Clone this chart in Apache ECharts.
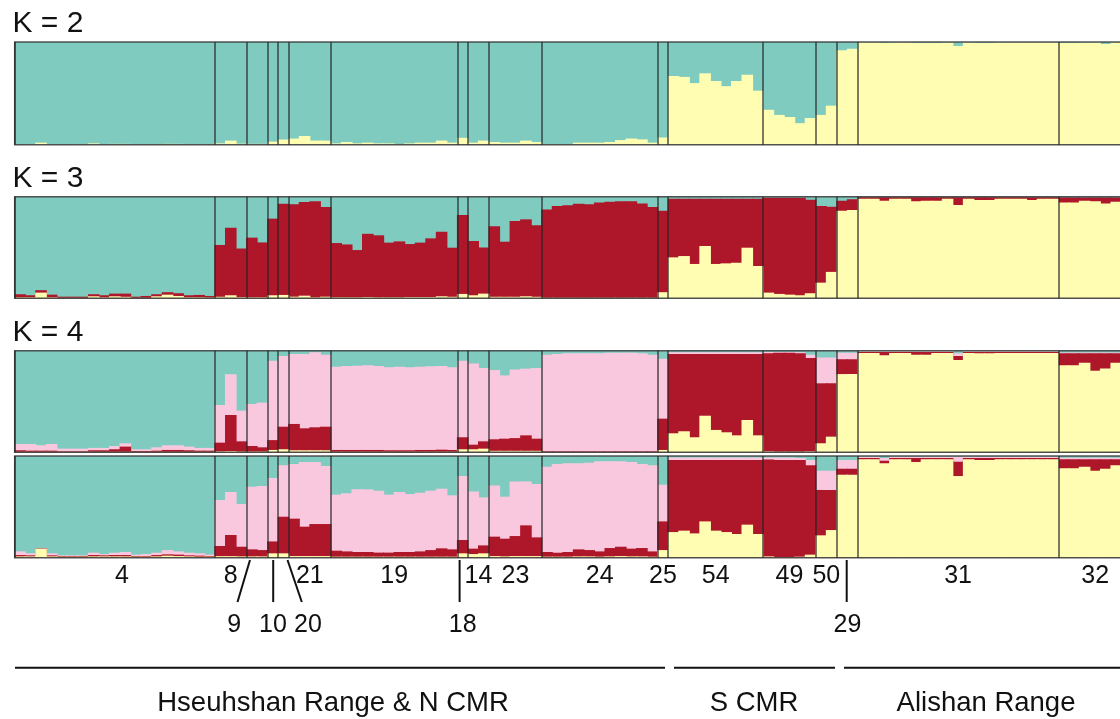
<!DOCTYPE html>
<html><head><meta charset="utf-8">
<script src="https://cdn.jsdelivr.net/npm/echarts@6/dist/echarts.min.js"></script>
<style>html,body{margin:0;padding:0;background:#fff;overflow:hidden;width:1120px;height:719px}#c{width:1140px;height:719px}</style>
</head><body><div id="c"></div>
<script>
// Populations (left to right) and number of individuals in each
const popNames = ['4','8','9','10','20','21','19','18','14','23','24','25','54','49','50','29','31','32'];
const popSizes = [19,3,2,1,1,4,12,1,2,5,11,1,9,5,2,2,19,7];
const panelTitles = ['K = 2','K = 3','K = 4',''];
const groupNames = ['Hseuhshan Range & N CMR','S CMR','Alishan Range'];
const secondRowPops = ['9','10','20','18','29'];

// Cumulative membership tops (%) per individual (bottom -> top: yellow, red, pink, teal)
const k2Yellow = [
 0.5,0.5,2,0.5,0.5,0.5,0.5,1.3,0.5,0.8,0.8,0.5,0.5,0.7,0.8,0.8,0.6,0.5,0.5,
 1.3,4,1, 0.8,0.8, 3, 5, 6,8.5,4,4,
 1.3,2.6,1.3,2,1.3,1.3,0.7,1.3,2,2,4,2,
 6.7, 2,4, 2.6,2,2,4,2.6,
 0.7,0.7,0.7,2,2,2,2.6,4.5,6,5.2,2, 7,
 67,66,60,69.5,62,57,62,68,52.6,
 34,29,27,21,26, 29,38, 92,93.5,
 99.5,99.5,99,99.5,99.5,99,99,99,99.5,96,99.5,99,99,99.5,99.5,99.5,99.5,99.5,99.5,
 99,99,99.5,99.5,98,99.5,99.5];

const k3Yellow = [
 1,1,5.6,1,0.5,0.5,0.5,2,1,2,1.5,0.5,0.5,2,3.6,2.3,1,1,0.8,
 1.5,3,1.2, 1,1, 3, 3.3, 1.6,2.6,1,1.6,
 1,1,1,1.3,1,1,1,1.3,1.3,1.3,2,1.5,
 4.3, 3,4.6, 1.5,1.5,1.5,2,1.5,
 0.6,0.6,0.6,0.6,0.6,0.6,0.6,0.6,0.6,0.6,0.6, 6,
 40.3,41.6,33.8,51.5,33.8,34.4,35,49.8,31.8,
 5.6,4.3,3.6,3,5, 15.4,26, 86.2,86.9,
 98,98,96,98,98,95.4,96,96,98,91.8,98,96.7,96.7,98,98,98,96.7,98,98,
 94.4,94.4,96,95.5,93.4,95,95];
const k3Red = [
 4,3,8,3.6,1.6,1.6,1.6,4,3,4.6,4.6,1.6,2.3,4,6,5,3,3.3,2.3,
 52.5,69.5,49, 59.7,55, 78.4, 93, 92.5,94.8,95.4,89.8,
 54.4,53,47.5,63.5,62,54.8,56,53.4,54.8,59,65.6,49.8,
 82, 56.4,50, 71,55.7,76,77.7,71.8,
 87.5,90.8,91.5,93,92.5,94.4,95,95.4,95.4,93.4,89.8, 86.2,
 98,98,98,98,98,98,98,98,98,
 99,99,99,99,97, 90.8,90, 96,97.4,
 99.4,99.4,99.4,99.4,99.4,99.4,99.4,99.4,99.4,99.4,99.4,99.4,99.4,99.4,99.4,99.4,99.4,99.4,99.4,
 99.2,99.2,99.2,99.2,99.2,99.2,99.2];

const k4aYellow = [
 0.5,0.5,0.5,0.5,0.5,0.5,0.5,0.5,0.5,0.5,0.5,0.5,0.5,0.5,0.5,0.5,0.5,0.5,0.5,
 1,1.3,0.8, 0.8,0.8, 2.3, 3, 2,2,2,2,
 0.6,0.6,0.6,0.6,0.6,0.6,0.6,0.6,0.6,0.6,0.6,0.6,
 3, 3,3.6, 1.5,1.5,1.5,1.5,1.5,
 0.3,0.3,0.3,0.3,0.3,0.3,0.3,0.3,0.3,0.3,0.3, 2.3,
 18.7,20.7,14.8,36,22,19.7,16.7,31.8,16.7,
 1,0.7,0.7,0.7,1, 8.9,15.4, 77,77,
 97.7,97.7,95.4,97.7,97.7,96,96,97.7,97.7,90.8,97.7,97.4,97.4,97.7,97.7,97.7,97.7,97.7,97.7,
 85.6,85.6,88.2,80.3,82.6,88.2,88];
const k4aRed = [
 2,1.6,1.6,1.6,1,1,1,2,2,3,5.6,1.3,1.3,1.6,2.3,2.3,2,1.6,1.6,
 9.5,36.7,10.8, 6.2,4.9, 12, 25.2, 27.9,23.6,24.6,25.2,
 2.3,2.3,2.3,2.3,2.3,2,2,2,2.3,2.3,2.6,2.3,
 14.8, 7.5,10.8, 12.8,13.4,14,16.7,13.4,
 0.8,0.8,0.8,0.8,0.8,0.8,0.8,0.8,0.8,0.8,0.8, 33.1,
 96.7,96.7,96.7,96.7,96.7,96.7,96.7,96.7,96.7,
 97.4,98,98,97.4,92.8, 67.9,67.9, 91.5,91.5,
 98.7,98.7,98.7,98.7,98.7,98.7,98.7,98.7,98.7,94.8,98.7,98.7,98.7,98.7,98.7,98.7,98.7,98.7,98.7,
 97.4,97.4,97.4,97.4,97.4,97.4,97.4];
const k4aPink = [
 8.2,8.2,6.9,8.2,3.6,3.6,3.6,4.3,4.3,6.2,8.9,3,3,4.9,6.9,6.9,5.6,4.3,4.3,
 46.6,76.7,41, 47.5,48.9, 90.2, 94.8, 96.7,96.7,98.4,96,
 84.3,84.9,85.2,85.6,84.9,83.6,84.3,83.6,84.3,84.6,84.9,83.6,
 90.2, 87.5,83, 81,75.7,81.6,82.3,83,
 96,96.7,97.4,97.4,97.4,97.4,98,98,98,97.4,96, 92.1,
 98.5,98.5,98.5,98.5,98.5,98.5,98.5,98.5,98.5,
 98.7,98.7,98.7,98.5,96, 93.4,93.4, 98,98,
 99.4,99.4,99.4,99.4,99.4,99.4,99.4,99.4,99.4,97.4,99.4,99.4,99.4,99.4,99.4,99.4,99.4,99.4,99.4,
 98.2,98.2,98.2,98.2,98.2,98.2,98.2];

const k4bYellow = [
 1.3,1.3,8.9,1.3,1,1,1,1.3,1.3,1.3,1.3,1,1,1.3,2,1.6,1.3,1,1,
 1.5,1.5,1.3, 1.3,1.3, 4.3, 4.3, 1.6,1.6,1.6,1.6,
 1,1,1,1,1,1,1,1,1,1,1,1,
 4.3, 3.6,4.3, 1.6,1.3,1.6,1.6,1.6,
 1,1,1,1.3,1.3,1,1.3,1.6,1.3,1.3,1, 7.5,
 25.2,26.6,23.9,35.7,26.6,25.2,23.3,32.5,23.3,
 1.3,0.7,0.7,1,3, 22,27.2, 81.6,81.6,
 96.7,96.7,92.8,96.7,96.7,94.1,96.7,96.7,96.7,80.3,96.7,96,96,96.7,96.7,96.7,96.7,96.7,96.7,
 87.9,87.9,89.5,85.6,87.5,90.8,90];
const k4bRed = [
 2.6,2.3,9.2,2.3,1.6,1.6,1.6,2.6,2.3,2.6,2.6,1.6,1.6,2.6,3.3,3,2.3,2,1.6,
 11.5,22.3,10.8, 8.2,7.5, 16, 40.3, 38.4,30.5,33.1,33.1,
 6.9,6.2,5.6,5.6,5,5,5.6,5.6,6.2,7.5,9.2,8.2,
 17.4, 8.9,12.1, 20.7,18.7,21.3,31.8,20,
 5.6,4.9,5.6,8.2,7.5,6.2,9.5,10.8,8.9,9.5,6.2, 35.7,
 96,96,96,96,96,96,96,96,96,
 96.5,96,96,96,90.8, 66.6,66.6, 87.5,87.5,
 98,98,95.4,98,98,98,98,98,98,94.4,98,98,98,98,98,98,98,98,98,
 96.7,96.7,96.7,96.7,96.7,96.7,96.7];
const k4bPink = [
 6.2,4.3,9.5,4.3,2.3,2.3,2.3,4.9,3.6,4.9,5.6,3,3.6,4.9,7.5,6.2,4.9,4.3,3,
 56.7,64.6,52.8, 69.8,70.5, 78.4, 90.8, 92.1,94,94,90.2,
 62,63.3,67.2,67.2,65.9,62,64.6,62.6,63.9,65.9,67.9,61.3,
 80.3, 65.2,59.3, 71.1,60,75,75,72.5,
 89.5,92.1,92.8,92.8,93.4,94.8,94.8,94.8,94.1,92.1,90.8, 71.8,
 98.5,98.5,98.5,98.5,98.5,98.5,98.5,98.5,98.5,
 98.5,98.5,98.5,98,96, 85.6,85.6, 96,96,
 99.3,99.3,98,99.3,99.3,99.3,99.3,99.3,99.3,99.3,99.3,99.3,99.3,99.3,99.3,99.3,99.3,99.3,99.3,
 98.3,98.3,98.3,98.3,98.3,98.3,98.3];

// ---------- build ----------
const COLORS = {teal:'#80CBC0', pink:'#F9C8DF', red:'#AE1729', yellow:'#FEFDB2'};
const ids = [];
const popStart = [];
popSizes.forEach((n, p) => { popStart.push(ids.length); for (let j = 0; j < n; j++) ids.push(popNames[p] + '_' + (j + 1)); });
const boundarySet = new Set(popStart);
const frameTop = ids.map(() => 100); // every individual's bar fills the frame (memberships sum to 100%)

const panels = [
  [['teal', frameTop], ['yellow', k2Yellow]],
  [['teal', frameTop], ['red', k3Red], ['yellow', k3Yellow]],
  [['teal', frameTop], ['pink', k4aPink], ['red', k4aRed], ['yellow', k4aYellow]],
  [['teal', frameTop], ['pink', k4bPink], ['red', k4bRed], ['yellow', k4bYellow]]
];
const gridTops = [42, 196.7, 350.7, 456];
const gridHeights = [102.7, 101.6, 101.6, 101.7];
const barW = 10.541;
const FONT = '"Liberation Sans", Arial, sans-serif';

const grids = [], xAxes = [], yAxes = [], series = [];
panels.forEach((layers, p) => {
  grids.push({left: 14.7, top: gridTops[p], width: barW * ids.length, height: gridHeights[p],
    show: true, z: 10, backgroundColor: 'transparent', borderColor: 'rgba(55,55,55,0.85)', borderWidth: 1.5});
  xAxes.push({type: 'category', gridIndex: p, data: ids, boundaryGap: true, z: 10,
    axisLine: {show: false}, axisTick: {show: false}, axisLabel: {show: false},
    splitLine: {show: true, interval: (i) => boundarySet.has(i), lineStyle: {color: 'rgba(35,35,35,0.8)', width: 1.5}}});
  yAxes.push({type: 'value', gridIndex: p, min: 0, max: 100, show: false});
  layers.forEach(([col, data]) => {
    series.push({type: 'bar', xAxisIndex: p, yAxisIndex: p, data: data, barGap: '-100%', barWidth: '110%',
      silent: true, animation: false,
      itemStyle: {color: COLORS[col], borderWidth: 0}});
  });
});

const chart = echarts.init(document.getElementById('c'), null, {renderer: 'canvas'});
chart.setOption({animation: false, grid: grids, xAxis: xAxes, yAxis: yAxes, series: series});

// ---------- annotations (positions from the axis scale) ----------
const g = [];
const txt = (x, y, s, size, align) => ({type: 'text', x: x, y: y, z: 20,
  style: {text: s, font: size + 'px ' + FONT, fill: '#111', align: align || 'center', verticalAlign: 'middle'}});
const line = (x1, y1, x2, y2) => ({type: 'line', z: 20, shape: {x1, y1, x2, y2}, style: {stroke: '#111', lineWidth: 2}});

const titleY = [24, 178.5, 332.5];
panelTitles.forEach((t, i) => { if (t) g.push(txt(12.5, titleY[i], t, 30, 'left')); });

const labelDx = {'4': 7, '9': -23, '20': 24.5};
popNames.forEach((name, p) => {
  const s = popStart[p], e = s + popSizes[p] - 1;
  const x0 = chart.convertToPixel({xAxisIndex: 3}, ids[s]);
  const x1 = chart.convertToPixel({xAxisIndex: 3}, ids[e]);
  const cx = (x0 + x1) / 2 + (labelDx[name] || 0);
  const row2 = secondRowPops.indexOf(name) >= 0;
  g.push(txt(cx, row2 ? 625 : 576.5, name, 25));
});
// leader lines for the second-row labels
g.push(line(250, 560, 237.5, 602));
g.push(line(273.2, 560, 273.2, 602));
g.push(line(287.5, 560, 301.8, 602));
g.push(line(459.6, 560, 459.6, 602));
g.push(line(846.7, 560, 846.7, 602));
// region brackets
g.push(line(15, 667.7, 665, 667.7));
g.push(line(674, 667.7, 835, 667.7));
g.push(line(844, 667.7, 1125, 667.7));
g.push(txt(333, 703, groupNames[0], 27.5));
g.push(txt(754, 703, groupNames[1], 27.5));
g.push(txt(986, 703, groupNames[2], 27.5));

chart.setOption({graphic: g});
</script>
</body></html>
